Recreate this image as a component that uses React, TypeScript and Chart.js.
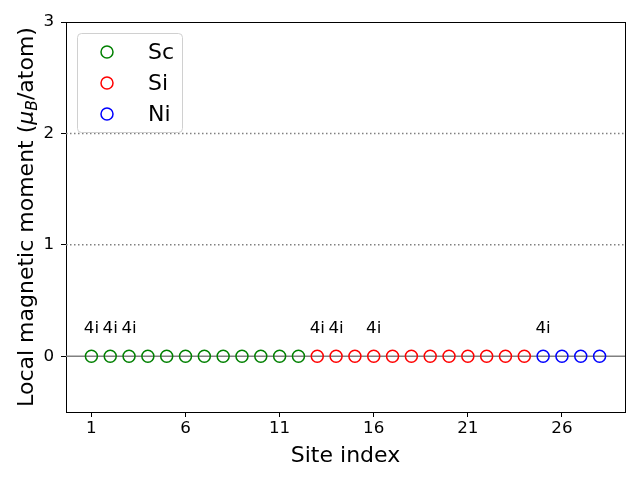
import React, { useEffect, useRef } from "react";
import { Chart, registerables } from "chart.js";

Chart.register(...registerables);

const scSites = [1, 2, 3, 4, 5, 6, 7, 8, 9, 10, 11, 12];
const scMoments = [0, 0, 0, 0, 0, 0, 0, 0, 0, 0, 0, 0];
const siSites = [13, 14, 15, 16, 17, 18, 19, 20, 21, 22, 23, 24];
const siMoments = [0, 0, 0, 0, 0, 0, 0, 0, 0, 0, 0, 0];
const niSites = [25, 26, 27, 28];
const niMoments = [0, 0, 0, 0];

const labelSites = [1, 2, 3, 13, 14, 16, 25];
const labelTexts = ["4i", "4i", "4i", "4i", "4i", "4i", "4i"];
const labelY = 0.2;

const xTicks = [1, 6, 11, 16, 21, 26];
const yTicks = [0, 1, 2, 3];
const dottedLines = [1, 2];
const solidLines = [0];

const seriesNames = ["Sc", "Si", "Ni"];
const seriesColors = ["#008000", "#ff0000", "#0000ff"];

const FONT = "'DejaVu Sans', sans-serif";

const decorPlugin = {
  id: "decor",
  beforeDatasetsDraw(chart: any) {
    const { ctx, chartArea, scales } = chart;
    const y = scales.y;
    ctx.save();
    ctx.strokeStyle = "#808080";
    ctx.lineWidth = 1.5;
    ctx.setLineDash([1.5, 2.5]);
    dottedLines.forEach((v) => {
      const py = y.getPixelForValue(v);
      ctx.beginPath();
      ctx.moveTo(chartArea.left, py);
      ctx.lineTo(chartArea.right, py);
      ctx.stroke();
    });
    ctx.setLineDash([]);
    solidLines.forEach((v) => {
      const py = y.getPixelForValue(v);
      ctx.beginPath();
      ctx.moveTo(chartArea.left, py);
      ctx.lineTo(chartArea.right, py);
      ctx.stroke();
    });
    ctx.restore();
  },
  afterDraw(chart: any) {
    const { ctx, chartArea, scales } = chart;
    const x = scales.x;
    const y = scales.y;
    ctx.save();
    // site labels
    ctx.fillStyle = "#000";
    ctx.font = `16.7px ${FONT}`;
    ctx.textAlign = "center";
    ctx.textBaseline = "alphabetic";
    labelSites.forEach((s, i) => {
      ctx.fillText(labelTexts[i], x.getPixelForValue(s), y.getPixelForValue(labelY) - 1);
    });

    // legend
    const lx = chartArea.left + 11;
    const ly = chartArea.top + 11;
    const lw = 105;
    const lh = 99;
    ctx.beginPath();
    (ctx as any).roundRect(lx + 0.5, ly + 0.5, lw, lh, 4);
    ctx.fillStyle = "rgba(255,255,255,0.8)";
    ctx.fill();
    ctx.strokeStyle = "#d0d0d0";
    ctx.lineWidth = 1;
    ctx.stroke();
    ctx.font = `22px ${FONT}`;
    ctx.textAlign = "left";
    seriesNames.forEach((n, i) => {
      const cy = ly + 19 + i * 31;
      ctx.beginPath();
      ctx.arc(lx + 30, cy, 6, 0, Math.PI * 2);
      ctx.strokeStyle = seriesColors[i];
      ctx.lineWidth = 1.5;
      ctx.stroke();
      ctx.fillStyle = "#000";
      ctx.fillText(n, lx + 71, cy + 7);
    });

    // x title
    ctx.font = `22px ${FONT}`;
    ctx.textAlign = "center";
    ctx.fillText("Site index", (chartArea.left + chartArea.right) / 2, 462);

    // y title with subscript
    const segs = [
      { t: "Local magnetic moment (", f: `22px ${FONT}`, dy: 0 },
      { t: "μ", f: `italic 22px ${FONT}`, dy: 0 },
      { t: "B", f: `italic 15.5px ${FONT}`, dy: 4 },
      { t: "/atom)", f: `22px ${FONT}`, dy: 0 },
    ];
    let total = 0;
    const widths = segs.map((s) => {
      ctx.font = s.f;
      const w = ctx.measureText(s.t).width;
      total += w;
      return w;
    });
    ctx.translate(33, (chartArea.top + chartArea.bottom) / 2);
    ctx.rotate(-Math.PI / 2);
    ctx.textAlign = "left";
    let cx = -total / 2;
    segs.forEach((s, i) => {
      ctx.font = s.f;
      ctx.fillText(s.t, cx, s.dy);
      cx += widths[i];
    });
    ctx.restore();
  },
};

export default function App() {
  const ref = useRef<HTMLCanvasElement | null>(null);
  useEffect(() => {
    document.body.style.margin = "0";
    const canvas = ref.current!;
    const mk = (xs: number[], ys: number[]) => xs.map((v, i) => ({ x: v, y: ys[i] }));
    const chart = new Chart(canvas, {
      type: "scatter",
      data: {
        datasets: [
          { label: seriesNames[0], data: mk(scSites, scMoments) },
          { label: seriesNames[1], data: mk(siSites, siMoments) },
          { label: seriesNames[2], data: mk(niSites, niMoments) },
        ].map((d, i) => ({
          ...d,
          borderColor: seriesColors[i],
          backgroundColor: "rgba(0,0,0,0)",
          pointRadius: 6,
          pointHoverRadius: 6,
          pointBorderWidth: 1.5,
          pointStyle: "circle",
        })),
      },
      options: {
        animation: false,
        responsive: false,
        events: [],
        layout: { padding: { left: 0, right: 15, top: 22, bottom: 0 } },
        plugins: { legend: { display: false }, tooltip: { enabled: false } },
        scales: {
          x: {
            type: "linear",
            min: -0.35,
            max: 29.35,
            afterBuildTicks: (s: any) => {
              s.ticks = xTicks.map((v) => ({ value: v }));
            },
            afterFit: (s: any) => {
              s.height = 68;
            },
            grid: {
              drawOnChartArea: false,
              drawTicks: true,
              tickLength: 5,
              tickColor: "#000",
              lineWidth: 1,
            },
            border: { display: true, color: "#000", width: 1 },
            ticks: {
              autoSkip: false,
              maxRotation: 0,
              padding: 2,
              color: "#000",
              font: { family: FONT, size: 16.7 },
              callback: (v: any) => String(v),
            },
          },
          y: {
            type: "linear",
            min: -0.5,
            max: 3,
            afterBuildTicks: (s: any) => {
              s.ticks = yTicks.map((v) => ({ value: v }));
            },
            afterFit: (s: any) => {
              s.width = 66;
            },
            grid: {
              drawOnChartArea: false,
              drawTicks: true,
              tickLength: 5,
              tickColor: "#000",
              lineWidth: 1,
            },
            border: { display: true, color: "#000", width: 1 },
            ticks: {
              padding: 7,
              color: "#000",
              font: { family: FONT, size: 16.7 },
              callback: (v: any) => String(v),
            },
          },
          x2: {
            type: "linear",
            position: "top",
            min: -0.35,
            max: 29.35,
            display: true,
            grid: { display: false, drawTicks: false },
            ticks: { display: false },
            border: { display: true, color: "#000", width: 1 },
            afterFit: (s: any) => {
              s.height = 0;
            },
          },
          y2: {
            type: "linear",
            position: "right",
            min: -0.5,
            max: 3,
            display: true,
            grid: { display: false, drawTicks: false },
            ticks: { display: false },
            border: { display: true, color: "#000", width: 1 },
            afterFit: (s: any) => {
              s.width = 0;
            },
          },
        },
      } as any,
      plugins: [decorPlugin],
    });
    return () => chart.destroy();
  }, []);
  return <canvas ref={ref} width={640} height={480} style={{ display: "block" }} />;
}
